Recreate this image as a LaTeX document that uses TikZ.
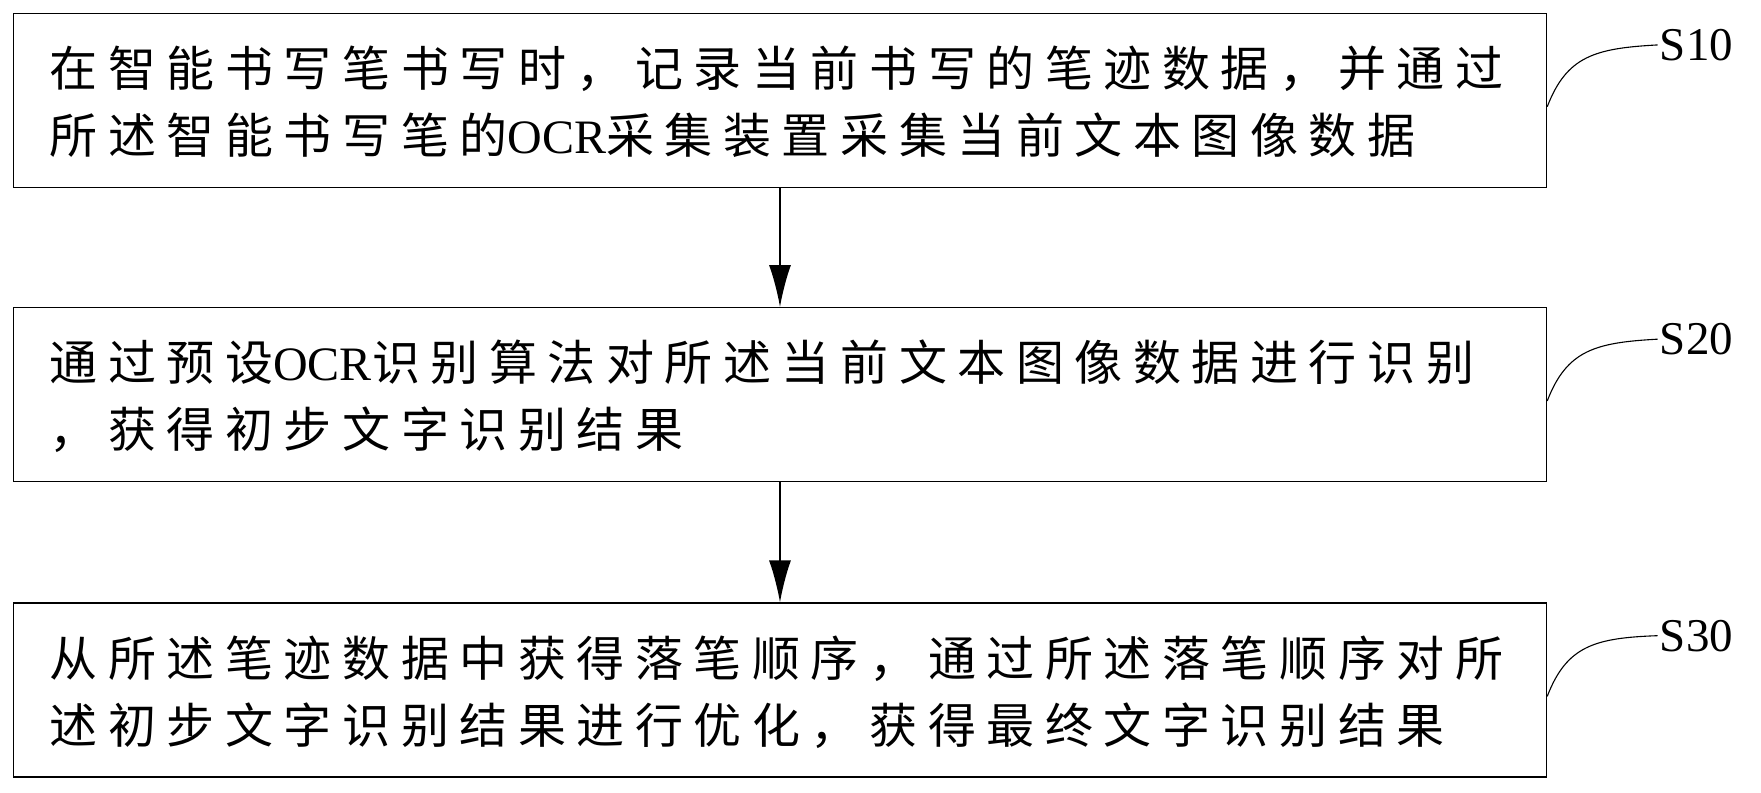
\documentclass[tikz,border=0pt]{standalone}
\usepackage{fontspec}
\setmainfont{Liberation Serif}
\newfontfamily\cjk[LetterSpace=22]{Noto Sans CJK SC}
\usetikzlibrary{positioning}
\usetikzlibrary{arrows.meta}

\begin{document}
\begin{tikzpicture}[x=1.123pt,y=1.123pt,yscale=-1,xscale=1,
  stepbox/.style={draw,line width=1.4pt,minimum width=1533pt,minimum height=174pt,inner sep=0pt},
  steptext/.style={anchor=west,align=left,inner sep=0pt,font=\cjk\fontsize{48}{67}\selectfont},
  steplabel/.style={font=\fontsize{47}{47}\selectfont,anchor=west,inner sep=2pt},
  flow/.style={line width=1.6pt,-{Latex[length=42pt,width=22pt]}}]
\useasboundingbox (0,0) rectangle (1568,706);

%Boxes
\node[stepbox] (s10) at (694.5,89.5) {};
\node[stepbox] (s20) at (694.5,351.5) {};
\node[stepbox] (s30) at (694.5,614.5) {};

% Text Node
\node[steptext] (t10) at (44,91) {在智能书写笔书写时，记录当前书写的笔迹数据，并通过\\所述智能书写笔的{\rmfamily OCR}采集装置采集当前文本图像数据};
\node[steptext] (t20) at (44,353) {通过预设{\rmfamily OCR}识别算法对所述当前文本图像数据进行识别\\，获得初步文字识别结果};
\node[steptext] (t30) at (44,616) {从所述笔迹数据中获得落笔顺序，通过所述落笔顺序对所\\述初步文字识别结果进行优化，获得最终文字识别结果};

%Labels
\node[steplabel] (l10) at (1476,40) {S10};
\node[steplabel] (l20) at (1476,302) {S20};
\node[steplabel] (l30) at (1476,566) {S30};
\foreach \n/\y in {10/95,20/357,30/620}
  \draw[line width=1.1pt] (s\n.east |- 0,\y) .. controls (1395,\y-45) and (1420,\y-52) .. (l\n.west);

%Arrows
\draw[flow] (s10) -- (s20);
\draw[flow] (s20) -- (s30);
\end{tikzpicture}
\end{document}
